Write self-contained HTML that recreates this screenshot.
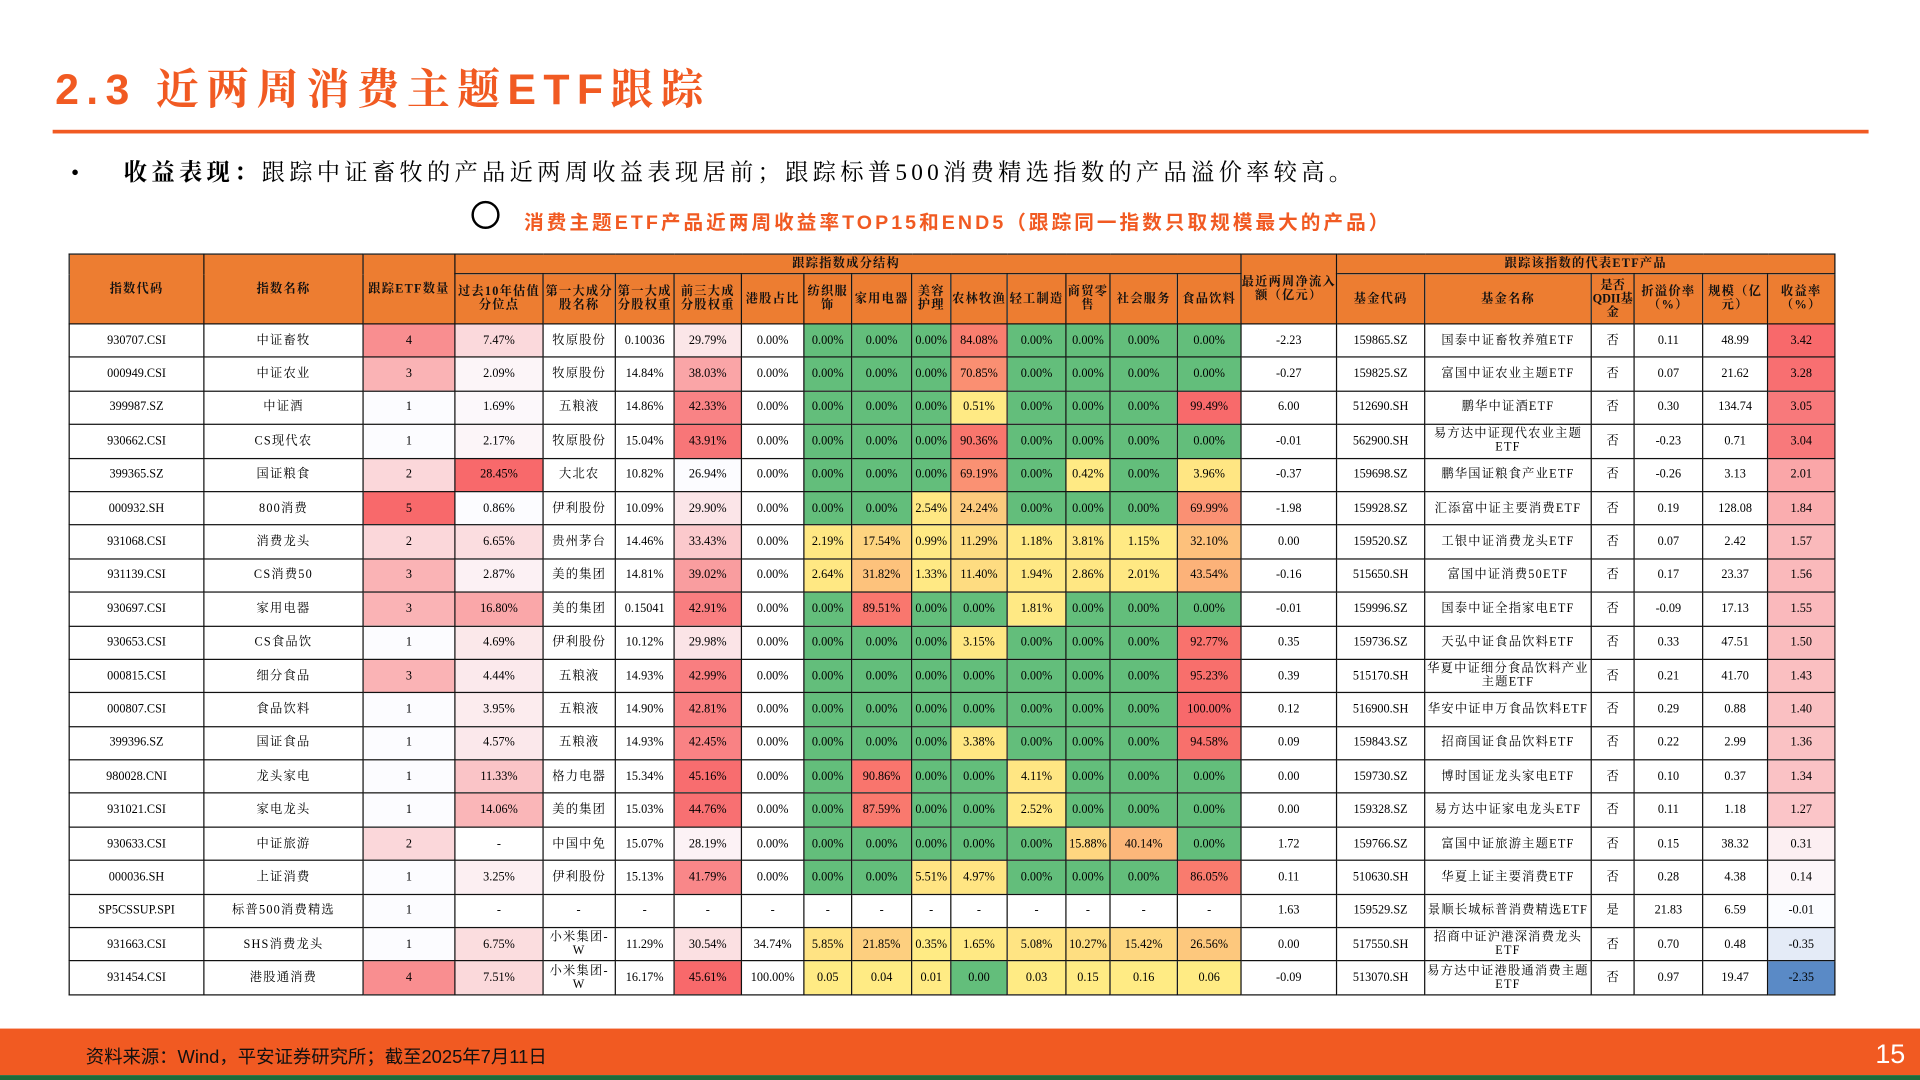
<!DOCTYPE html>
<html><head><meta charset="utf-8">
<style>
html,body{margin:0;padding:0;background:#fff;}
body{width:1920px;height:1080px;overflow:hidden;position:relative;}
#wrap{position:absolute;left:0;top:0;width:1568px;height:882px;transform:scale(1.22449);transform-origin:0 0;font-family:"Liberation Serif","Noto Serif CJK SC",serif;}
.title{position:absolute;left:45px;top:46px;font-family:"Liberation Sans","Noto Serif CJK SC",sans-serif;font-weight:bold;font-size:35px;color:#F15A22;letter-spacing:6px;}
.rule{position:absolute;left:43px;top:106px;width:1483px;height:3px;background:#F15A22;}
.bullet{position:absolute;left:58px;top:126px;font-size:19px;color:#000;letter-spacing:3.5px;font-family:"Liberation Serif","Noto Serif CJK SC",serif;}
.sub{position:absolute;left:428px;top:168px;font-size:16px;font-weight:bold;color:#F15A22;letter-spacing:2.5px;font-family:"Liberation Sans","Noto Sans CJK SC",sans-serif;}
.circ{position:absolute;left:385px;top:164px;width:19px;height:19px;border:2px solid #000;border-radius:50%;}
table{position:absolute;left:56px;top:207px;border-collapse:collapse;table-layout:fixed;width:1442px;}
td,th{border:1.5px solid #111;padding:0;text-align:center;vertical-align:middle;font-size:10px;line-height:11px;overflow:hidden;}
th{background:#ED7D31;font-weight:bold;color:#111;letter-spacing:1px;}
tr.d td{height:26.4px;}
td.cj{letter-spacing:1px;}
.foot{position:absolute;left:0;top:840px;width:1568px;height:38px;background:#F15A22;}
.foot span{position:absolute;left:70px;top:12px;font-size:15px;color:#111;font-family:"Liberation Sans","Noto Sans CJK SC",sans-serif;}
.foot b{position:absolute;right:12px;top:8px;font-size:22px;color:#fff;font-weight:normal;font-family:"Liberation Sans",sans-serif;}
.green{position:absolute;left:0;top:878px;width:1568px;height:4px;background:#1E6B3A;}
</style></head><body>
<div id="wrap">
<div class="title">2.3 近两周消费主题ETF跟踪</div>
<div class="rule"></div>
<div class="bullet">•&nbsp;&nbsp;&nbsp;&nbsp;<b>收益表现：</b>跟踪中证畜牧的产品近两周收益表现居前；跟踪标普500消费精选指数的产品溢价率较高。</div>
<div class="circ"></div>
<div class="sub">消费主题ETF产品近两周收益率TOP15和END5（跟踪同一指数只取规模最大的产品）</div>
<table id="tbl">
<colgroup id="cg"></colgroup>
<tr style="height:16px">
<th rowspan="2">指数代码</th>
<th rowspan="2">指数名称</th>
<th rowspan="2">跟踪ETF数量</th>
<th colspan="13" style="text-align:left;padding-left:275px">跟踪指数成分结构</th>
<th rowspan="2">最近两周净流入额（亿元）</th>
<th colspan="6">跟踪该指数的代表ETF产品</th>
</tr>
<tr style="height:41px">
<th>过去10年估值分位点</th>
<th>第一大成分股名称</th>
<th>第一大成分股权重</th>
<th>前三大成分股权重</th>
<th>港股占比</th>
<th>纺织服饰</th>
<th>家用电器</th>
<th>美容护理</th>
<th>农林牧渔</th>
<th>轻工制造</th>
<th>商贸零售</th>
<th>社会服务</th>
<th>食品饮料</th>
<th>基金代码</th>
<th>基金名称</th>
<th style="letter-spacing:0">是否QDII基金</th>
<th>折溢价率（%）</th>
<th>规模（亿元）</th>
<th>收益率（%）</th>
</tr>
</table>
<div class="foot"><span>资料来源：Wind，平安证券研究所；截至2025年7月11日</span><b>15</b></div>
<div class="green"></div>
</div>
<script>
const widths=[110,130,75,72,59,48,55,51,39,49,32,46,48,36,55,52,78,72,136,35,56,53,55];
const codes=["930707.CSI","000949.CSI","399987.SZ","930662.CSI","399365.SZ","000932.SH","931068.CSI","931139.CSI","930697.CSI","930653.CSI","000815.CSI","000807.CSI","399396.SZ","980028.CNI","931021.CSI","930633.CSI","000036.SH","SP5CSSUP.SPI","931663.CSI","931454.CSI"];
const names=["中证畜牧","中证农业","中证酒","CS现代农","国证粮食","800消费","消费龙头","CS消费50","家用电器","CS食品饮","细分食品","食品饮料","国证食品","龙头家电","家电龙头","中证旅游","上证消费","标普500消费精选","SHS消费龙头","港股通消费"];
const etfCount=[4,3,1,1,2,5,2,3,3,1,3,1,1,1,1,2,1,1,1,4];
const valuation=["7.47%","2.09%","1.69%","2.17%","28.45%","0.86%","6.65%","2.87%","16.80%","4.69%","4.44%","3.95%","4.57%","11.33%","14.06%","-","3.25%","-","6.75%","7.51%"];
const top1Name=["牧原股份","牧原股份","五粮液","牧原股份","大北农","伊利股份","贵州茅台","美的集团","美的集团","伊利股份","五粮液","五粮液","五粮液","格力电器","美的集团","中国中免","伊利股份","-","小米集团-W","小米集团-W"];
const top1Weight=["0.10036","14.84%","14.86%","15.04%","10.82%","10.09%","14.46%","14.81%","0.15041","10.12%","14.93%","14.90%","14.93%","15.34%","15.03%","15.07%","15.13%","-","11.29%","16.17%"];
const top3Weight=["29.79%","38.03%","42.33%","43.91%","26.94%","29.90%","33.43%","39.02%","42.91%","29.98%","42.99%","42.81%","42.45%","45.16%","44.76%","28.19%","41.79%","-","30.54%","45.61%"];
const hkShare=["0.00%","0.00%","0.00%","0.00%","0.00%","0.00%","0.00%","0.00%","0.00%","0.00%","0.00%","0.00%","0.00%","0.00%","0.00%","0.00%","0.00%","-","34.74%","100.00%"];
const textile=[0,0,0,0,0,0,2.19,2.64,0,0,0,0,0,0,0,0,0,null,5.85,0.05];
const appliance=[0,0,0,0,0,0,17.54,31.82,89.51,0,0,0,0,90.86,87.59,0,0,null,21.85,0.04];
const beauty=[0,0,0,0,0,2.54,0.99,1.33,0,0,0,0,0,0,0,0,5.51,null,0.35,0.01];
const agri=[84.08,70.85,0.51,90.36,69.19,24.24,11.29,11.40,0,3.15,0,0,3.38,0,0,0,4.97,null,1.65,0.00];
const light=[0,0,0,0,0,0,1.18,1.94,1.81,0,0,0,0,4.11,2.52,0,0,null,5.08,0.03];
const retail=[0,0,0,0,0.42,0,3.81,2.86,0,0,0,0,0,0,0,15.88,0,null,10.27,0.15];
const social=[0,0,0,0,0,0,1.15,2.01,0,0,0,0,0,0,0,40.14,0,null,15.42,0.16];
const food=[0,0,99.49,0,3.96,69.99,32.10,43.54,0,92.77,95.23,100.00,94.58,0,0,0,86.05,null,26.56,0.06];
const netFlow=["-2.23","-0.27","6.00","-0.01","-0.37","-1.98","0.00","-0.16","-0.01","0.35","0.39","0.12","0.09","0.00","0.00","1.72","0.11","1.63","0.00","-0.09"];
const fundCode=["159865.SZ","159825.SZ","512690.SH","562900.SH","159698.SZ","159928.SZ","159520.SZ","515650.SH","159996.SZ","159736.SZ","515170.SH","516900.SH","159843.SZ","159730.SZ","159328.SZ","159766.SZ","510630.SH","159529.SZ","517550.SH","513070.SH"];
const fundName=["国泰中证畜牧养殖ETF","富国中证农业主题ETF","鹏华中证酒ETF","易方达中证现代农业主题ETF","鹏华国证粮食产业ETF","汇添富中证主要消费ETF","工银中证消费龙头ETF","富国中证消费50ETF","国泰中证全指家电ETF","天弘中证食品饮料ETF","华夏中证细分食品饮料产业主题ETF","华安中证申万食品饮料ETF","招商国证食品饮料ETF","博时国证龙头家电ETF","易方达中证家电龙头ETF","富国中证旅游主题ETF","华夏上证主要消费ETF","景顺长城标普消费精选ETF","招商中证沪港深消费龙头ETF","易方达中证港股通消费主题ETF"];
const qdii=["否","否","否","否","否","否","否","否","否","否","否","否","否","否","否","否","否","是","否","否"];
const premium=["0.11","0.07","0.30","-0.23","-0.26","0.19","0.07","0.17","-0.09","0.33","0.21","0.29","0.22","0.10","0.11","0.15","0.28","21.83","0.70","0.97"];
const fundSize=["48.99","21.62","134.74","0.71","3.13","128.08","2.42","23.37","17.13","47.51","41.70","0.88","2.99","0.37","1.18","38.32","4.38","6.59","0.48","19.47"];
const returns=[3.42,3.28,3.05,3.04,2.01,1.84,1.57,1.56,1.55,1.50,1.43,1.40,1.36,1.34,1.27,0.31,0.14,-0.01,-0.35,-2.35];

function mix(a,b,t){t=Math.max(0,Math.min(1,t));return 'rgb('+a.map((v,i)=>Math.round(v+(b[i]-v)*t)).join(',')+')';}
const W=[252,252,255],R=[248,105,107],Y=[255,235,132],G=[99,190,123],B=[90,138,198];
function whiteRed(v,min,max){return mix(W,R,(v-min)/(max-min));}
function pv(s){const x=parseFloat(s);return isNaN(x)?null:x;}
function fmtPct(v){return v==null?'-':(v.toFixed(2)+'%');}
function secColor(v){if(v==null)return '#fff';if(v===0)return 'rgb(99,190,123)';return mix(Y,R,v/100);}

const cg=document.getElementById('cg');
widths.forEach(w=>{const c=document.createElement('col');c.style.width=w+'px';cg.appendChild(c);});
const tbl=document.getElementById('tbl');
const valNums=valuation.map(pv).filter(v=>v!=null);
const vMax=Math.max(...valNums),vMin=Math.min(...valNums);
const t3=top3Weight.map(pv).filter(v=>v!=null);
const t3Max=Math.max(...t3),t3Min=Math.min(...t3);
const rMax=Math.max(...returns),rMin=Math.min(...returns);
const sectors=[textile,appliance,beauty,agri,light,retail,social,food];
const secNames=['textile','appliance','beauty','agri','light','retail','social','food'];

for(let i=0;i<codes.length;i++){
  const tr=document.createElement('tr');
  tr.className='d';
  
  
  function add(text,name,bg,cls){
    const td=document.createElement('td');
    td.textContent=text;
    
    
    if(bg)td.style.background=bg;
    if(cls)td.className=cls;
    tr.appendChild(td);
  }
  add(codes[i],'index-code-cell');
  add(names[i],'index-name-cell',null,'cj');
  add(String(etfCount[i]),'etf-count-cell',whiteRed(etfCount[i],1,5));
  const vv=pv(valuation[i]);
  add(valuation[i],'valuation-cell',vv==null?'#fff':whiteRed(vv,vMin,vMax));
  add(top1Name[i],'top1-name-cell',null,'cj');
  add(top1Weight[i],'top1-weight-cell');
  const tv=pv(top3Weight[i]);
  add(top3Weight[i],'top3-weight-cell',tv==null?'#fff':whiteRed(tv,t3Min,t3Max));
  add(hkShare[i],'hk-share-cell');
  sectors.forEach((arr,k)=>{
    const v=arr[i];
    const txt=(i===codes.length-1&&v!=null)?v.toFixed(2):fmtPct(v);
    add(txt,secNames[k]+'-cell',secColor(v));
  });
  add(netFlow[i],'net-flow-cell');
  add(fundCode[i],'fund-code-cell');
  add(fundName[i],'fund-name-cell',null,'cj');
  add(qdii[i],'qdii-cell');
  add(premium[i],'premium-cell');
  add(fundSize[i],'fund-size-cell');
  const r=returns[i];
  add(r.toFixed(2),'return-cell',r>=0?mix(W,R,r/rMax):mix(W,B,r/rMin));
  tbl.appendChild(tr);
}
</script>
</body></html>
